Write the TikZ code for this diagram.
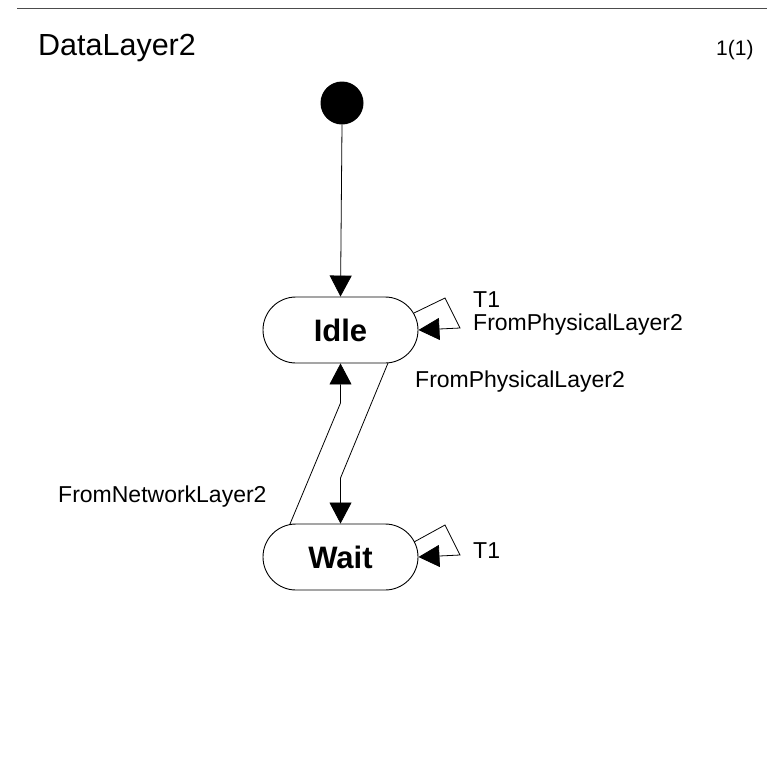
\documentclass[tikz,border=0pt]{standalone}
\usepackage{fontspec}
\setmainfont{Liberation Sans}
\usetikzlibrary{arrows.meta,calc}
\begin{document}
\begin{tikzpicture}[x=1pt,y=-1pt,
  statebox/.style={draw,line width=0.9pt,rounded corners=33pt,minimum width=155pt,minimum height=66pt,inner sep=0pt,font=\fontsize{31}{31}\selectfont\bfseries},
  trans/.style={line width=0.8pt,-{Triangle[length=21pt,width=22pt]}},
  lbl/.style={anchor=base west,inner sep=0pt,font=\fontsize{23}{23}\selectfont}]
\useasboundingbox (0,0) rectangle (767,758);
\draw[line width=1pt,black!70] (17,8) -- (767,8);
\node[lbl,font=\fontsize{30.5}{30.5}\selectfont] (title) at (38,55) {DataLayer2};
\node[lbl,font=\fontsize{21}{21}\selectfont] (page) at (716,55) {1(1)};
\node[circle,fill=black,minimum size=43pt,inner sep=0pt] (start) at (342,103) {};
\node[statebox] (Idle) at (340.5,330) {Idle};
\node[statebox] (Wait) at (340.5,557) {Wait};
% initial
\draw[trans] (start.south) -- (Idle.north);
% Idle self loop
\coordinate (ia) at (414,313);
\coordinate (ib) at (445,298);
\coordinate (ic) at (460,328);
\draw[trans] (ia) -- (ib) -- (ic) -- (Idle.east);
% Wait self loop
\coordinate (wa) at (414,542);
\coordinate (wb) at (445,525);
\coordinate (wc) at (460,555);
\draw[trans] (wa) -- (wb) -- (wc) -- (Wait.east);
% Wait -> Idle
\coordinate (na) at (290,524);
\coordinate (nb) at (340.5,403);
\draw[trans] (na) -- (nb) -- (Idle.south);
% Idle -> Wait
\coordinate (pa) at (388,363);
\coordinate (pb) at (340.5,478);
\draw[trans] (pa) -- (pb) -- (Wait.north);
% labels
\node[lbl] (l1) at (473,307) {T1};
\node[lbl] (l2) at (473,330) {FromPhysicalLayer2};
\node[lbl] (l3) at (415,387) {FromPhysicalLayer2};
\node[lbl] (l4) at (58,502) {FromNetworkLayer2};
\node[lbl] (l5) at (473,558) {T1};
\end{tikzpicture}
\end{document}
